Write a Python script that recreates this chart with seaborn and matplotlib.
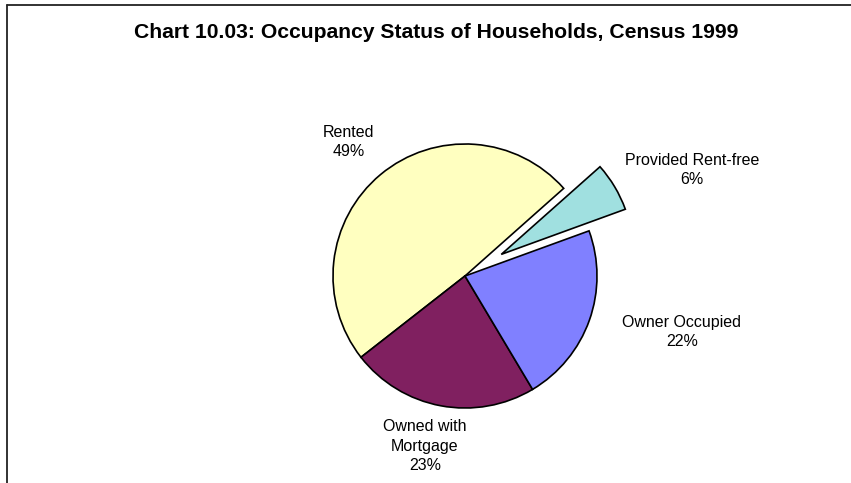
import matplotlib
matplotlib.use('Agg')
import matplotlib.pyplot as plt
from matplotlib.lines import Line2D
import seaborn as sns

# Data
categories = ['Rented', 'Owned with\nMortgage', 'Owner Occupied', 'Provided Rent-free']
shares = [49, 23, 22, 6]
pie_colors = ['#FFFFC0', '#802060', '#8080FF', '#A0E0E0']
explode = [0, 0, 0, 0.32]

sns.set_theme(style='white')
plt.rcParams['font.family'] = ['Liberation Sans', 'DejaVu Sans']

W, H = 851, 483
fig = plt.figure(figsize=(W / 100, H / 100), dpi=100)
fig.patch.set_facecolor('white')

# axes in units of the pie radius (132 px), centre at (465, 276) px
R = 132.0
cx, cy = 465.0, 276.0
ax = fig.add_axes([0, 0, 1, 1])
ax.axis('off')

wedges, _ = ax.pie(shares, colors=pie_colors, explode=explode,
                   startangle=41.6, counterclock=True, radius=1.0,
                   wedgeprops=dict(edgecolor='black', linewidth=1.2),
                   normalize=True)
ax.set_xlim(-cx / R, (W - cx) / R)
ax.set_ylim(-(H - cy) / R, cy / R)
ax.set_aspect('auto')

# labels placed like the original (pixel positions)
label_pos = [(349, 142), (425, 446), (682, 332), (692, 170)]
for name, pct, (px, py) in zip(categories, shares, label_pos):
    ax.text((px - cx) / R, (cy - py) / R, f'{name}\n{pct}%',
            ha='center', va='center', fontsize=11.5, color='black',
            linespacing=1.35)

fig.text(436 / W, 1 - 32 / H, 'Chart 10.03: Occupancy Status of Households, Census 1999',
         ha='center', va='center', fontsize=15.2, fontweight='bold', color='black')

# frame (top and left edges only, as in the reference)
fig.add_artist(Line2D([7 / W, 1], [1 - 5 / H, 1 - 5 / H], color='#222222', lw=1.3))
fig.add_artist(Line2D([7 / W, 7 / W], [0, 1 - 5 / H], color='#222222', lw=1.3))

fig.savefig('out.png', dpi=100)
